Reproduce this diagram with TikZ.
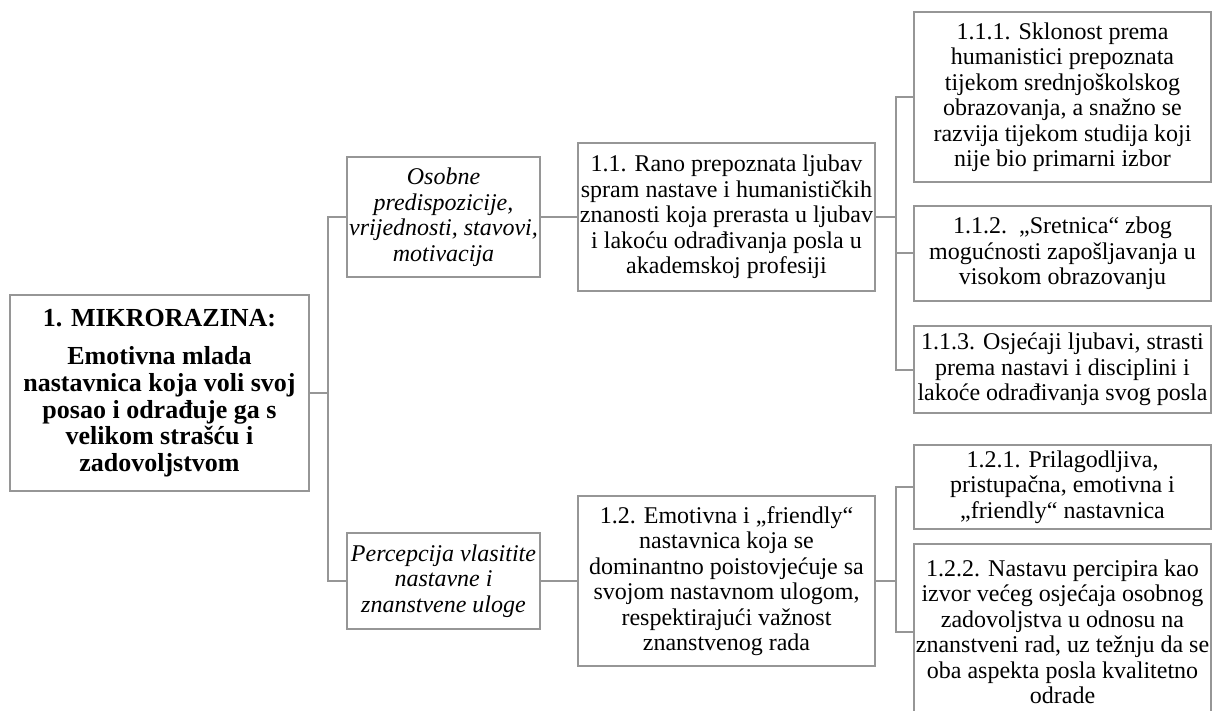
\documentclass[tikz,border=0pt]{standalone}
\usepackage{fontspec}
\setmainfont{Liberation Serif}
\definecolor{linegray}{RGB}{150,150,150}
\begin{document}
\begin{tikzpicture}[x=1pt,y=-1pt,
  box/.style={draw=linegray, line width=2pt, fill=white, align=center, inner sep=0pt,
    font=\fontsize{24}{25.5}\selectfont},
  rootbox/.style={box, font=\bfseries\fontsize{26}{26.7}\selectfont},
  catbox/.style={box, font=\itshape\fontsize{24}{25.5}\selectfont},
  link/.style={draw=linegray, line width=2pt}]
\useasboundingbox (0,0) rectangle (1213,711);

\node[rootbox, minimum width=299pt, minimum height=196pt] (root) at (159.5,393)
  {1. MIKRORAZINA:\\[12pt]Emotivna mlada\\nastavnica koja voli svoj\\posao i odrađuje ga s\\velikom strašću i\\zadovoljstvom};

\node[catbox, minimum width=193pt, minimum height=120pt] (cat1) at (443.5,217)
  {Osobne\\predispozicije,\\vrijednosti, stavovi,\\motivacija};
\node[catbox, minimum width=193pt, minimum height=96pt] (cat2) at (443.5,581)
  {Percepcija vlasitite\\nastavne i\\znanstvene uloge};

\node[box, minimum width=297pt, minimum height=148pt] (mid1) at (726.5,217)
  {1.1. Rano prepoznata ljubav\\spram nastave i humanističkih\\znanosti koja prerasta u ljubav\\i lakoću odrađivanja posla u\\akademskoj profesiji};
\node[box, minimum width=297pt, minimum height=170pt] (mid2) at (726.5,581)
  {1.2. Emotivna i „friendly“\\nastavnica koja se\\dominantno poistovjećuje sa\\svojom nastavnom ulogom,\\respektirajući važnost\\znanstvenog rada};

\node[box, minimum width=297pt, minimum height=170pt] (l111) at (1062.5,97)
  {1.1.1. Sklonost prema\\humanistici prepoznata\\tijekom srednjoškolskog\\obrazovanja, a snažno se\\razvija tijekom studija koji\\nije bio primarni izbor};
\node[box, minimum width=297pt, minimum height=95pt] (l112) at (1062.5,253.5)
  {1.1.2.\ \ „Sretnica“ zbog\\mogućnosti zapošljavanja u\\visokom obrazovanju};
\node[box, minimum width=297pt, minimum height=87pt] (l113) at (1062.5,369.5)
  {1.1.3. Osjećaji ljubavi, strasti\\prema nastavi i disciplini i\\lakoće odrađivanja svog posla};
\node[box, minimum width=297pt, minimum height=84pt] (l121) at (1062.5,487)
  {1.2.1. Prilagodljiva,\\pristupačna, emotivna i\\„friendly“ nastavnica};
\node[box, minimum width=297pt, minimum height=176pt] (l122) at (1062.5,632)
  {1.2.2. Nastavu percipira kao\\izvor većeg osjećaja osobnog\\zadovoljstva u odnosu na\\znanstveni rad, uz težnju da se\\oba aspekta posla kvalitetno\\odrade};

\coordinate (t0) at (328,393);
\coordinate (t1) at (896,217);
\coordinate (t2) at (896,581);

\draw[link] (root.east) -- (t0);
\draw[link] (t0) |- (cat1.west);
\draw[link] (t0) |- (cat2.west);
\draw[link] (cat1.east) -- (mid1.west);
\draw[link] (cat2.east) -- (mid2.west);
\draw[link] (mid1.east) -- (t1);
\draw[link] (t1) |- (l111.west);
\draw[link] (t1) |- (l112.west);
\draw[link] (t1) |- (l113.west);
\draw[link] (mid2.east) -- (t2);
\draw[link] (t2) |- (l121.west);
\draw[link] (t2) |- (l122.west);
\end{tikzpicture}
\end{document}
